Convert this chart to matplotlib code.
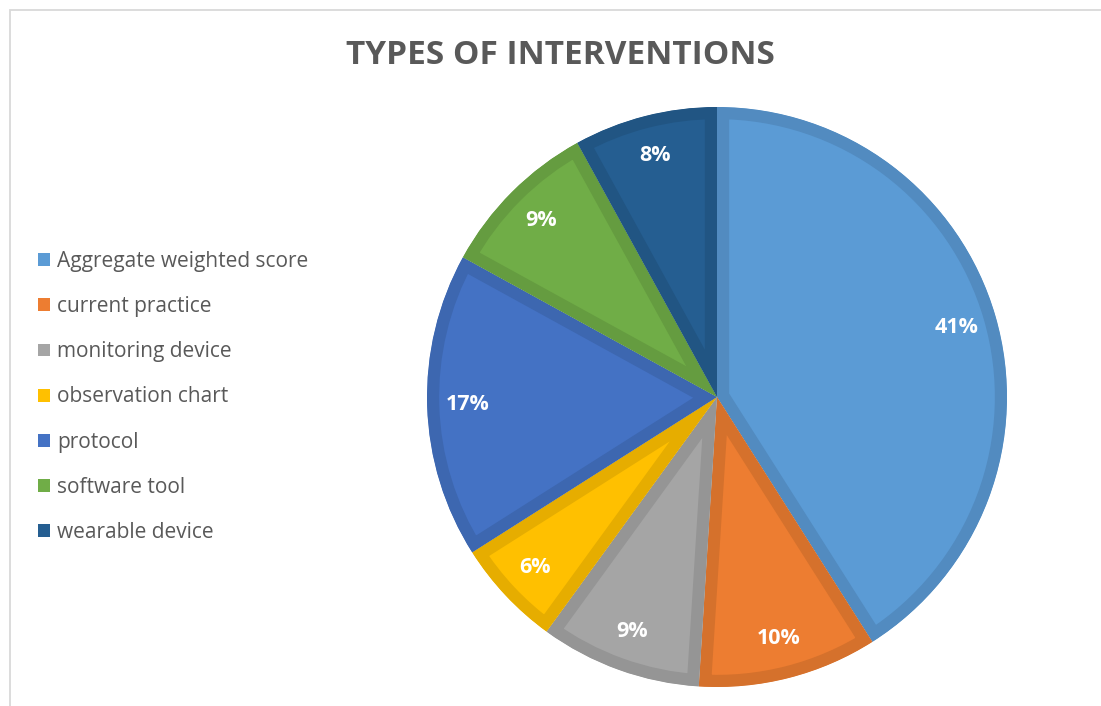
import matplotlib.pyplot as plt
from matplotlib.patches import Patch, Rectangle
from matplotlib.colors import to_rgb

plt.rcParams['font.family'] = ['Open Sans', 'DejaVu Sans']

# Share of each intervention type (percent)
categories = ["Aggregate weighted score", "current practice", "monitoring device",
              "observation chart", "protocol", "software tool", "wearable device"]
shares = [41, 10, 9, 6, 17, 9, 8]
colors = ["#5B9BD5", "#ED7D31", "#A5A5A5", "#FFC000", "#4472C4", "#70AD47", "#255E91"]

W, H = 1101, 706
fig = plt.figure(figsize=(W / 100, H / 100), dpi=100)

# light frame round the chart area
frame = Rectangle((9.5 / W, -0.1), 1.2, (H - 9.5) / H + 0.1, transform=fig.transFigure,
                  fill=False, edgecolor="#D9D9D9", linewidth=1.3)
fig.patches.append(frame)

# pie placed by centre and radius in pixels
cx, cy, r = 717, 397, 290
ax = fig.add_axes([(cx - r) / W, (H - cy - r) / H, 2 * r / W, 2 * r / H])

def darker(c, f=0.9):
    return tuple(v * f for v in to_rgb(c))

wedges, _, autotexts = ax.pie(
    shares, colors=colors, startangle=90, counterclock=False, radius=1,
    autopct=lambda p: f"{p:.0f}%", pctdistance=0.86,
    textprops=dict(color="white", fontsize=15.5, fontweight="bold"),
)

# inner stroke: wide edge clipped to its own wedge
for w, c in zip(wedges, colors):
    w.set_edgecolor(darker(c))
    w.set_linewidth(17.5)
    w.set_clip_on(True)
    w.set_clip_path(w)

ax.set_xlim(-1, 1)
ax.set_ylim(-1, 1)
ax.set_aspect("equal")
ax.axis("off")

fig.text(560 / W, 1 - 55 / H, "TYPES OF INTERVENTIONS", ha="center", va="center",
         fontsize=24, fontweight="bold", color="#595959")

handles = [Patch(facecolor=c, edgecolor="none") for c in colors]
fig.legend(handles, categories, loc="center left", bbox_to_anchor=(38 / W, 1 - 397 / H),
           frameon=False, fontsize=15, labelcolor="#595959",
           handlelength=0.58, handleheight=0.58, handletextpad=0.34, labelspacing=1.16,
           borderaxespad=0, borderpad=0)

fig.savefig("out.png", dpi=100)
